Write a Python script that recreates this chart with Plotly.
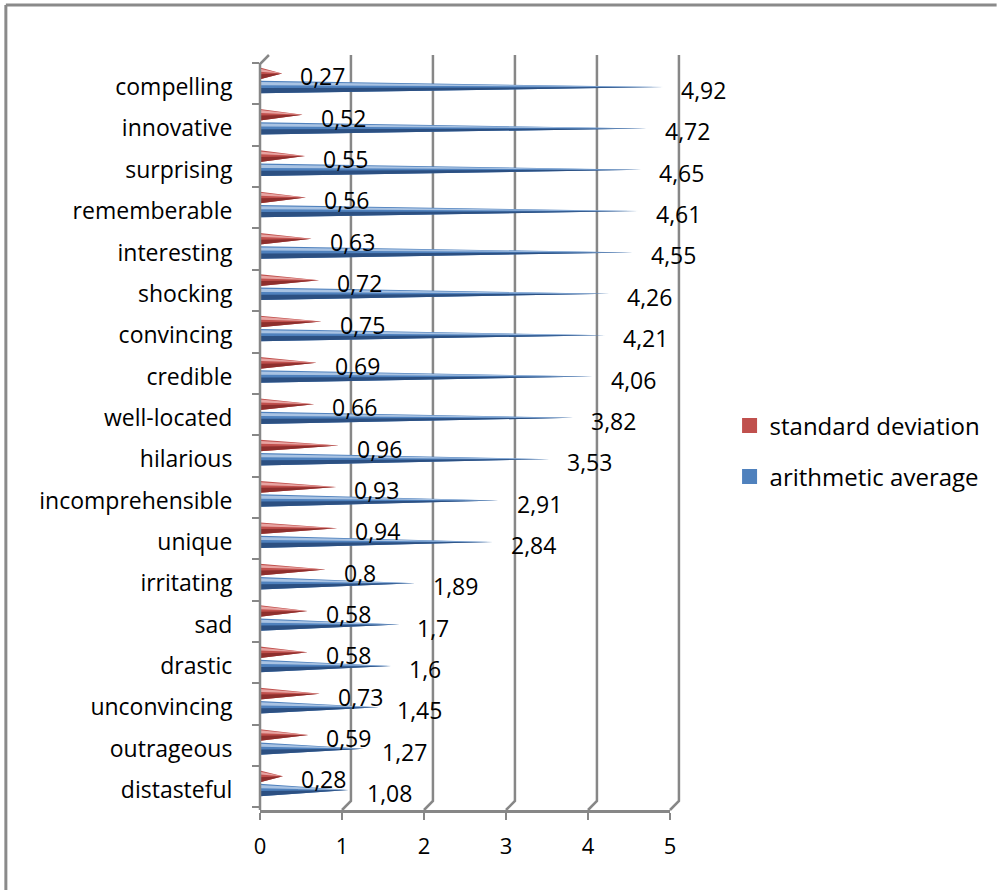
import plotly.graph_objects as go

# ---------------- data (top to bottom as in the chart) ----------------
categories = ["compelling", "innovative", "surprising", "rememberable", "interesting",
              "shocking", "convincing", "credible", "well-located", "hilarious",
              "incomprehensible", "unique", "irritating", "sad", "drastic",
              "unconvincing", "outrageous", "distasteful"]
std_dev = [0.27, 0.52, 0.55, 0.56, 0.63, 0.72, 0.75, 0.69, 0.66, 0.96,
           0.93, 0.94, 0.8, 0.58, 0.58, 0.73, 0.59, 0.28]
avg = [4.92, 4.72, 4.65, 4.61, 4.55, 4.26, 4.21, 4.06, 3.82, 3.53,
       2.91, 2.84, 1.89, 1.7, 1.6, 1.45, 1.27, 1.08]
x_ticks = [0, 1, 2, 3, 4, 5]

series = [
    dict(name="standard deviation", values=std_dev, offset=0.33, half=0.14,
         base="#C0504D", dark="#8E2F2D", light="#E8A4A2"),
    dict(name="arithmetic average", values=avg, offset=0.0, half=0.15,
         base="#4F81BD", dark="#2C5082", light="#A9C3E3"),
]

# ---------------- geometry (pixels of the page) ----------------
W, H = 997, 890
L, R, T, B = 260, 673, 55, 810          # plot area in pixels
pw, ph = R - L, B - T
n = len(categories)
ypos = [n - 1 - i for i in range(n)]     # compelling on top
unit_px = 41.35
y_lo = -(B - 790) / unit_px
y_hi = y_lo + ph / unit_px

def px(p):
    return (p - L) / pw

def py(p):
    return (B - p) / ph

FONT = "Open Sans"
fig = go.Figure()

# ---------------- cones ----------------
for s in series:
    layers = {"base": ([], []), "dark": ([], []), "light": ([], [])}
    for v, k in zip(s["values"], ypos):
        yc = k + s["offset"]
        h = s["half"]
        polys = {
            "base": [(0, yc - h), (v, yc), (0, yc + h)],
            "dark": [(0, yc - h), (v, yc), (0, yc - 0.15 * h)],
            "light": [(0, yc + 0.3 * h), (v, yc), (0, yc + 0.8 * h)],
        }
        for key, pts in polys.items():
            xs, ys = layers[key]
            xs.extend([p[0] for p in pts] + [pts[0][0], None])
            ys.extend([p[1] for p in pts] + [pts[0][1], None])
    for key in ["base", "dark", "light"]:
        xs, ys = layers[key]
        fig.add_trace(go.Scatter(x=xs, y=ys, mode="lines", fill="toself",
                                 fillcolor=s[key], line=dict(width=0, color=s[key]),
                                 showlegend=False, hoverinfo="skip"))

# ---------------- data labels ----------------
annotations = []
for s in series:
    for v, k in zip(s["values"], ypos):
        annotations.append(dict(x=v, y=k + s["offset"], xref="x", yref="y",
                                text=f"{v:g}".replace(".", ","), showarrow=False,
                                xanchor="left", yanchor="middle", xshift=16, yshift=-3,
                                font=dict(family=FONT, size=23, color="#000000")))

# ---------------- legend entries ----------------
fig.add_trace(go.Scatter(x=[None], y=[None], mode="markers", name=series[0]["name"],
                         marker=dict(symbol="square", size=15, color=series[0]["base"]),
                         legend="legend"))
fig.add_trace(go.Scatter(x=[None], y=[None], mode="markers", name=series[1]["name"],
                         marker=dict(symbol="square", size=15, color=series[1]["base"]),
                         legend="legend2"))

# ---------------- walls / grid (3D look) ----------------
GRID = "#878787"
dx, dy = 9 / pw, 9 / ph
shapes = []
for v in x_ticks[1:]:
    fx = v / 5
    shapes.append(dict(type="path", xref="paper", yref="paper", layer="below",
                       path=f"M {fx},0 L {fx+dx},{dy} L {fx+dx},1",
                       line=dict(color=GRID, width=2.5)))
# left (value) wall edge
shapes.append(dict(type="path", xref="paper", yref="paper", layer="above",
                   path=f"M 0,0 L 0,{1-dy} L {dx},1",
                   line=dict(color=GRID, width=2.5)))
# outer chart frame (left and top edges)
shapes.append(dict(type="line", xref="paper", yref="paper",
                   x0=px(4), x1=px(4), y0=py(5), y1=py(H + 5),
                   line=dict(color="#8a8a8a", width=3)))
shapes.append(dict(type="line", xref="paper", yref="paper",
                   x0=px(4), x1=px(W + 5), y0=py(5), y1=py(5),
                   line=dict(color="#8a8a8a", width=3)))

boundaries = [j - 0.42 for j in range(n + 1)]

fig.update_layout(
    width=W, height=H,
    margin=dict(l=L, r=W - R, t=T, b=H - B),
    paper_bgcolor="white", plot_bgcolor="white",
    font=dict(family=FONT, color="#000000"),
    xaxis=dict(range=[0, 5], tickvals=x_ticks, ticktext=[str(t) for t in x_ticks],
               showgrid=False, zeroline=False, showline=True, linecolor=GRID,
               linewidth=2.5, ticks="outside", ticklen=7, tickwidth=2, tickcolor=GRID,
               ticklabelstandoff=8, tickfont=dict(family=FONT, size=22)),
    yaxis=dict(range=[y_lo, y_hi], tickvals=ypos, ticktext=categories,
               showgrid=False, zeroline=False, showline=False,
               ticks="outside", ticklen=22, tickcolor="rgba(0,0,0,0)",
               tickfont=dict(family=FONT, size=23),
               minor=dict(tickvals=boundaries, ticks="outside", ticklen=7,
                          tickwidth=2, tickcolor=GRID, showgrid=False)),
    legend=dict(x=px(733), y=py(426), xanchor="left", yanchor="middle",
                font=dict(family=FONT, size=24), bgcolor="rgba(0,0,0,0)",
                itemwidth=30),
    legend2=dict(x=px(733), y=py(477), xanchor="left", yanchor="middle",
                 font=dict(family=FONT, size=24), bgcolor="rgba(0,0,0,0)",
                 itemwidth=30),
    shapes=shapes,
    annotations=annotations,
    showlegend=True,
)

fig.write_html("out.html")
